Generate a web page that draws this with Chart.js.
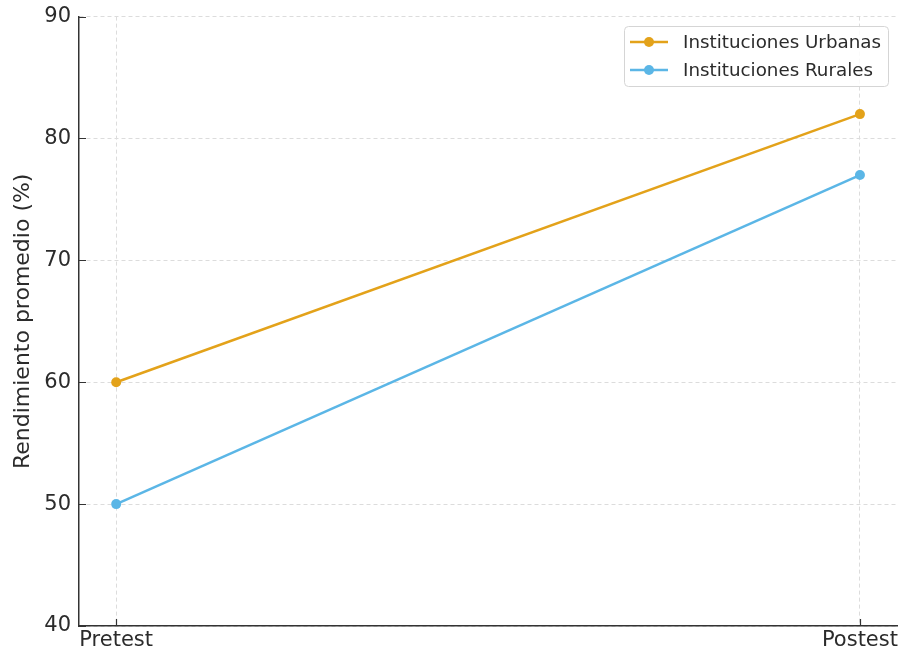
<!DOCTYPE html>
<html>
<head>
    <title>Rendimiento promedio</title>
    <script src="https://cdn.jsdelivr.net/npm/chart.js"></script>
    <style>
        html, body { margin: 0; padding: 0; background: white; overflow: hidden; }
        .wrap { width: 898px; height: 653px; position: relative; overflow: hidden; }
        /* the original figure is cropped a little at the top */
        #chart { position: absolute; left: 0; top: -4px; }
    </style>
</head>
<body>
    <div class="wrap">
        <canvas id="chart" width="900" height="657"></canvas>
    </div>

    <script>
        const categories = ['Pretest', 'Postest'];
        const urbanas = [60, 82];
        const rurales = [50, 77];
        const yTicks = [40, 50, 60, 70, 80, 90];

        const FONT = "'DejaVu Sans', sans-serif";
        const TEXT = '#2b2b2b';

        // legend drawn by hand so the marker is a line with a dot, like the original
        const lineLegend = {
            id: 'lineLegend',
            afterDraw(chart) {
                const ctx = chart.ctx;
                const x = 624, y = 30, w = 264, h = 60;
                ctx.save();
                ctx.fillStyle = 'rgba(255,255,255,0.85)';
                ctx.strokeStyle = '#d5d5d5';
                ctx.lineWidth = 1;
                ctx.beginPath();
                ctx.roundRect(x + 0.5, y + 0.5, w, h, 4);
                ctx.fill();
                ctx.stroke();
                chart.data.datasets.forEach((ds, i) => {
                    const cy = y + 16 + i * 28;
                    ctx.strokeStyle = ds.borderColor;
                    ctx.lineWidth = 2.5;
                    ctx.beginPath();
                    ctx.moveTo(x + 6, cy);
                    ctx.lineTo(x + 44, cy);
                    ctx.stroke();
                    ctx.fillStyle = ds.borderColor;
                    ctx.beginPath();
                    ctx.arc(x + 25, cy, 5, 0, Math.PI * 2);
                    ctx.fill();
                    ctx.fillStyle = TEXT;
                    ctx.font = '18.3px ' + FONT;
                    ctx.textBaseline = 'middle';
                    ctx.fillText(ds.label, x + 59, cy + 1);
                });
                ctx.restore();
            }
        };

        // matplotlib style ticks pointing into the plot
        const innerTicks = {
            id: 'innerTicks',
            afterDatasetsDraw(chart) {
                const ctx = chart.ctx;
                const { x, y } = chart.scales;
                const area = chart.chartArea;
                ctx.save();
                ctx.strokeStyle = '#333';
                ctx.lineWidth = 1.2;
                ctx.beginPath();
                x.ticks.forEach(t => {
                    const px = Math.round(x.getPixelForValue(t.value)) + 0.5;
                    ctx.moveTo(px, area.bottom);
                    ctx.lineTo(px, area.bottom - 7);
                });
                y.ticks.forEach(t => {
                    const py = Math.round(y.getPixelForValue(t.value)) + 0.5;
                    ctx.moveTo(area.left, py);
                    ctx.lineTo(area.left + 7, py);
                });
                ctx.stroke();
                ctx.restore();
            }
        };

        const toPoints = arr => arr.map((v, i) => ({ x: i, y: v }));

        new Chart(document.getElementById('chart'), {
            type: 'line',
            data: {
                datasets: [{
                    label: 'Instituciones Urbanas',
                    data: toPoints(urbanas),
                    borderColor: '#E3A21A',
                    backgroundColor: '#E3A21A',
                    borderWidth: 2.5,
                    pointRadius: 5,
                    pointBorderWidth: 0
                }, {
                    label: 'Instituciones Rurales',
                    data: toPoints(rurales),
                    borderColor: '#5BB6E6',
                    backgroundColor: '#5BB6E6',
                    borderWidth: 2.5,
                    pointRadius: 5,
                    pointBorderWidth: 0
                }]
            },
            options: {
                responsive: false,
                animation: false,
                events: [],
                layout: { autoPadding: false, padding: { top: 16, right: 1, left: 0, bottom: 0 } },
                plugins: { legend: { display: false }, tooltip: { enabled: false } },
                scales: {
                    x: {
                        type: 'linear',
                        min: -0.05,
                        max: 1.05,
                        afterBuildTicks: s => { s.ticks = categories.map((c, i) => ({ value: i })); },
                        afterFit: s => { s.height = 27; },
                        ticks: {
                            callback: v => categories[v],
                            font: { family: FONT, size: 21 },
                            color: TEXT,
                            padding: 2,
                            maxRotation: 0
                        },
                        grid: { color: '#dcdcdc', drawTicks: false },
                        border: { color: '#333', width: 1.5, dash: [4, 3] }
                    },
                    y: {
                        min: 40,
                        max: 90,
                        afterBuildTicks: s => { s.ticks = yTicks.map(v => ({ value: v })); },
                        afterFit: s => { s.width = 79; },
                        ticks: {
                            font: { family: FONT, size: 21 },
                            color: TEXT,
                            padding: 8
                        },
                        grid: { color: '#dcdcdc', drawTicks: false },
                        border: { color: '#333', width: 1.5, dash: [4, 3] },
                        title: {
                            display: true,
                            text: 'Rendimiento promedio (%)',
                            font: { family: FONT, size: 22 },
                            color: TEXT,
                            padding: { top: 10, bottom: 0 }
                        }
                    }
                }
            },
            plugins: [innerTicks, lineLegend]
        });
    </script>
</body>
</html>
